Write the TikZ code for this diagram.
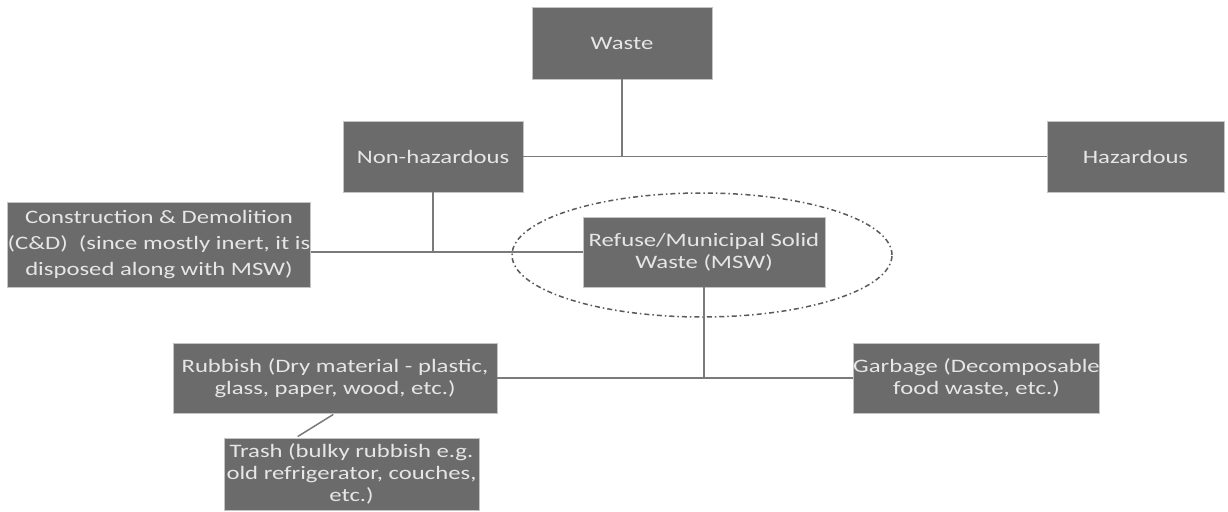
\documentclass[tikz,border=0pt]{standalone}
\usepackage{fontspec}
\setmainfont{Carlito}[FakeStretch=1.3]
\definecolor{boxfill}{HTML}{6B6B6B}
\definecolor{boxedge}{HTML}{C4C4C4}
\definecolor{boxtext}{HTML}{E6E6E6}
\definecolor{wire}{HTML}{7A7A7A}
\definecolor{ring}{HTML}{5A5A5A}
\begin{document}
\begin{tikzpicture}[x=1pt,y=-1pt,
  wbox/.style={draw=boxedge,line width=0.8pt,fill=boxfill,text=boxtext,
    inner sep=0pt,align=center,font=\fontsize{19}{22}\selectfont},
  link/.style={draw=wire,line width=1.5pt}]
\useasboundingbox (0,0) rectangle (1228,511);
\fill[white] (0,0) rectangle (1228,511);

% category boxes
\node[wbox,minimum width=180pt,minimum height=72pt] (waste) at (622,43) {Waste};
\node[wbox,minimum width=180pt,minimum height=71pt] (nonhaz) at (433,156.5) {Non-hazardous};
\node[wbox,minimum width=177pt,minimum height=71pt] (haz) at (1135.5,156.5) {Hazardous};
\node[wbox,minimum width=298pt,minimum height=85pt,
  font=\fontsize{19}{26}\selectfont] (cd) at (159,244.5)
  {Construction \& Demolition\\(C\&D)\ \ (since mostly inert, it is\\disposed along with MSW)};
\node[wbox,minimum width=242pt,minimum height=70pt] (msw) at (704,252)
  {Refuse/Municipal Solid\\Waste (MSW)};
\node[wbox,minimum width=324pt,minimum height=70pt] (rub) at (335,378)
  {Rubbish (Dry material - plastic,\\glass, paper, wood, etc.)};
\node[wbox,minimum width=243pt,minimum height=70pt] (garb) at (976.5,378)
  {Garbage (Decomposable\\food waste, etc.)};
\node[wbox,minimum width=255pt,minimum height=72pt] (trash) at (351.5,474)
  {Trash (bulky rubbish e.g.\\old refrigerator, couches,\\etc.)};

% dash-dot ring round the MSW box
\draw[ring,line width=1.5pt,dash pattern=on 5pt off 3pt on 1.5pt off 3pt]
  (702,255) ellipse [x radius=190pt,y radius=62pt];

% connectors
\draw[link] (nonhaz.east) -- (haz.west);
\draw[link] (waste.south) -- (waste.south |- haz.west);
\draw[link] (msw.west) -- (msw.west -| cd.east);
\draw[link] (nonhaz.south) -- (nonhaz.south |- msw.west);
\draw[link] (rub.east) -- (garb.west);
\draw[link] (msw.south) -- (msw.south |- rub.east);
\draw[link,shorten <=2pt,shorten >=2pt] (rub.south) -- ([xshift=-55.5pt]trash.north);
\end{tikzpicture}
\end{document}
